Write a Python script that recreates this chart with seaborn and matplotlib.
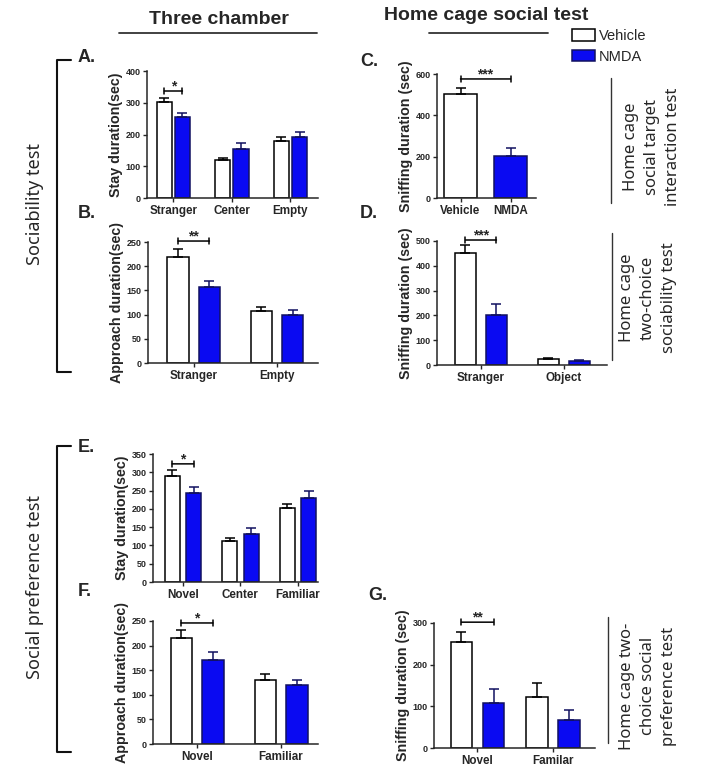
import matplotlib
matplotlib.use("Agg")
import matplotlib.pyplot as plt
from matplotlib.lines import Line2D
from matplotlib.patches import Patch
import pandas as pd
import seaborn as sns

W, H = 722, 773
GROUPS = ["Vehicle", "NMDA"]
FILL = {"Vehicle": "white", "NMDA": "#0a0af2"}
EDGE = {"Vehicle": "black", "NMDA": "#111160"}

# A. three chamber, stay duration
a_cats = ["Stranger", "Center", "Empty"]
a_veh, a_veh_err = [301, 121, 180], [15, 6, 11]
a_nmda, a_nmda_err = [256, 155, 193], [13, 17, 14]

# B. three chamber, approach duration
b_cats = ["Stranger", "Empty"]
b_veh, b_veh_err = [220, 108], [15, 7]
b_nmda, b_nmda_err = [157, 100], [12, 9]

# C. home cage social target interaction
c_cats = ["Vehicle", "NMDA"]
c_veh, c_veh_err = [502], [30]
c_nmda, c_nmda_err = [204], [36]

# D. home cage two-choice sociability
d_cats = ["Stranger", "Object"]
d_veh, d_veh_err = [450, 24], [34, 6]
d_nmda, d_nmda_err = [202, 18], [42, 4]

# E. three chamber, stay duration (social preference)
e_cats = ["Novel", "Center", "Familiar"]
e_veh, e_veh_err = [290, 111, 201], [15, 9, 12]
e_nmda, e_nmda_err = [243, 130, 229], [18, 17, 19]

# F. three chamber, approach duration (social preference)
f_cats = ["Novel", "Familiar"]
f_veh, f_veh_err = [216, 131], [15, 11]
f_nmda, f_nmda_err = [170, 120], [17, 11]

# G. home cage two-choice social preference
g_cats = ["Novel", "Familar"]
g_veh, g_veh_err = [255, 122], [23, 35]
g_nmda, g_nmda_err = [109, 68], [32, 24]


def fx(px):
    return px / W


def fy(py):
    return 1 - py / H


def long_form(cats, veh, nmda, paired=True):
    if paired:
        cat_col = list(cats) * 2
    else:
        cat_col = list(cats)
    return pd.DataFrame({
        "cat": cat_col,
        "group": ["Vehicle"] * len(veh) + ["NMDA"] * len(nmda),
        "value": list(veh) + list(nmda),
    })


def panel(fig, box, df, cats, errs, ylim, ystep, ylabel, xlim, width, gap,
          sig, dodge=True):
    x0, y0, x1, y1 = box
    ax = fig.add_axes([fx(x0), fy(y1), (x1 - x0) / W, (y1 - y0) / H])
    sns.barplot(
        data=df, x="cat", y="value", hue="group", order=cats,
        hue_order=GROUPS, palette=FILL, saturation=1, width=width, gap=gap,
        dodge=dodge, errorbar=None, legend=False, ax=ax,
        linewidth=1.1, edgecolor="black",
    )
    centers = []
    for cont, grp, err in zip(ax.containers, GROUPS, errs):
        xs, hs = [], []
        for bar in cont:
            bar.set_edgecolor(EDGE[grp])
            xs.append(bar.get_x() + bar.get_width() / 2)
            hs.append(bar.get_height())
        ax.errorbar(xs, hs, yerr=[[0] * len(err), err], fmt="none",
                    ecolor=EDGE[grp], elinewidth=1.1, capsize=3.3,
                    capthick=1.1, zorder=3)
        centers.append(xs)

    idx, stars, ys = sig
    xa, xb = centers[0][idx], centers[1][idx]
    ax.annotate("", xy=(xb, ys), xytext=(xa, ys), annotation_clip=False,
                arrowprops=dict(arrowstyle="|-|,widthA=0.22,widthB=0.22",
                                lw=1.1, color="black", shrinkA=0, shrinkB=0))
    ax.annotate(stars, xy=((xa + xb) / 2, ys), xytext=(0, 0.5),
                textcoords="offset points", ha="center", va="baseline",
                fontsize=10, fontweight="bold", annotation_clip=False)

    ax.set_ylim(0, ylim)
    ax.set_yticks(range(0, ylim + 1, ystep))
    ax.set_xlim(*xlim)
    ax.set_xlabel("")
    ax.set_ylabel(ylabel, fontsize=10.3, fontweight="bold", labelpad=2)
    sns.despine(ax=ax)
    for s in ("left", "bottom"):
        ax.spines[s].set_linewidth(1.1)
    ax.tick_params(axis="y", labelsize=6.5, length=3, width=1, pad=1.5)
    ax.tick_params(axis="x", labelsize=8.4, length=3, width=1, pad=2)
    for lbl in ax.get_xticklabels() + ax.get_yticklabels():
        lbl.set_fontweight("bold")
    return ax


sns.set_style("ticks")
plt.rcParams["font.family"] = ["Liberation Sans", "DejaVu Sans"]

fig = plt.figure(figsize=(W / 100, H / 100), dpi=100)

panel(fig, (147, 71, 318, 198), long_form(a_cats, a_veh, a_nmda), a_cats,
      [a_veh_err, a_nmda_err], 400, 100, "Stay duration(sec)",
      (-0.45, 2.47), 0.62, 0.17, (0, "*", 337))
panel(fig, (148, 242, 318, 363), long_form(b_cats, b_veh, b_nmda), b_cats,
      [b_veh_err, b_nmda_err], 250, 50, "Approach duration(sec)",
      (-0.548, 1.49), 0.754, 0.33, (0, "**", 252))
panel(fig, (437, 74, 536, 198), long_form(c_cats, c_veh, c_nmda, False),
      c_cats, [c_veh_err, c_nmda_err], 600, 200, "Sniffing duration (sec)",
      (-0.47, 1.51), 0.66, 0, (0, "***", 576), dodge=False)
panel(fig, (437, 241, 607, 365), long_form(d_cats, d_veh, d_nmda), d_cats,
      [d_veh_err, d_nmda_err], 500, 100, "Sniffing duration (sec)",
      (-0.53, 1.52), 0.747, 0.30, (0, "***", 504))
panel(fig, (153, 454, 318, 582), long_form(e_cats, e_veh, e_nmda), e_cats,
      [e_veh_err, e_nmda_err], 350, 50, "Stay duration(sec)",
      (-0.52, 2.35), 0.75, 0.31, (0, "*", 323))
panel(fig, (153, 621, 318, 744), long_form(f_cats, f_veh, f_nmda), f_cats,
      [f_veh_err, f_nmda_err], 250, 50, "Approach duration(sec)",
      (-0.524, 1.44), 0.76, 0.34, (0, "*", 246))
panel(fig, (434, 623, 595, 748), long_form(g_cats, g_veh, g_nmda), g_cats,
      [g_veh_err, g_nmda_err], 300, 100, "Sniffing duration (sec)",
      (-0.576, 1.556), 0.848, 0.34, (0, "**", 302))

# column titles with underlines
fig.text(fx(219), fy(20), "Three chamber", fontsize=14, fontweight="bold",
         ha="center", va="center")
fig.text(fx(486), fy(16), "Home cage social test", fontsize=14,
         fontweight="bold", ha="center", va="center")
for xa, xb in [(119, 317), (429, 548)]:
    fig.add_artist(Line2D([fx(xa), fx(xb)], [fy(33), fy(33)], color="#333333",
                          lw=1.3, transform=fig.transFigure))

# panel letters
for letter, px, py in [("A.", 78, 58), ("B.", 78, 213), ("C.", 360, 61),
                       ("D.", 360, 214), ("E.", 78, 447), ("F.", 78, 592),
                       ("G.", 368, 595)]:
    fig.text(fx(px), fy(py), letter, fontsize=13, fontweight="bold",
             ha="left", va="center")

# left brackets and section labels
for top, bot, label, cy in [(60, 372, "Sociability test", 204),
                            (446, 752, "Social preference test", 587)]:
    fig.add_artist(Line2D([fx(71), fx(57), fx(57), fx(71)],
                          [fy(top), fy(top), fy(bot), fy(bot)],
                          color="#111111", lw=1.5, transform=fig.transFigure))
    fig.text(fx(35), fy(cy), label, rotation=90, ha="center", va="center",
             fontsize=13, family=["Noto Sans", "DejaVu Sans"])

# right-side test labels
for lx, top, bot, tx, ty, text in [
        (611, 78, 203, 652, 147, "Home cage\nsocial target\ninteraction test"),
        (612, 233, 360, 648, 298, "Home cage\ntwo-choice\nsociability test"),
        (608, 617, 743, 648, 686, "Home cage two-\nchoice social\npreference test")]:
    fig.add_artist(Line2D([fx(lx), fx(lx)], [fy(top), fy(bot)],
                          color="#333333", lw=1.0, transform=fig.transFigure))
    fig.text(fx(tx), fy(ty), text, rotation=90, ha="center", va="center",
             ma="center", fontsize=12, linespacing=1.4,
             family=["Noto Sans", "DejaVu Sans"])

fig.legend(
    handles=[Patch(facecolor=FILL[g], edgecolor=EDGE[g], lw=1.1, label=g)
             for g in GROUPS],
    loc="upper left", bbox_to_anchor=(fx(572), fy(29)), frameon=False,
    fontsize=10.5, handlelength=1.6, handleheight=0.8, handletextpad=0.25,
    labelspacing=0.45, borderpad=0, borderaxespad=0,
)

fig.savefig("out.png", dpi=100)
